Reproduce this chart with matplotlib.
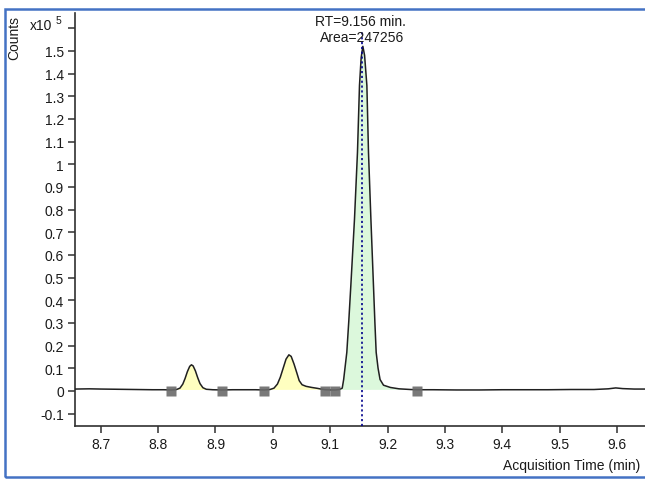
import matplotlib
matplotlib.use("Agg")
import matplotlib.pyplot as plt
from matplotlib.patches import Rectangle

plt.rcParams["font.family"] = ["Liberation Sans", "DejaVu Sans"]

# chromatogram trace, counts in units of 1e5
trace_time = [
	8.655, 8.68, 8.70, 8.73, 8.76, 8.79, 8.81, 8.823,
	8.832, 8.838, 8.843, 8.847, 8.851, 8.855, 8.858, 8.861, 8.865, 8.869,
	8.873, 8.878, 8.884, 8.895, 8.911, 8.93, 8.95, 8.97, 8.985,
	8.995, 9.002, 9.008, 9.013, 9.018, 9.023, 9.028, 9.032, 9.037, 9.042,
	9.046, 9.051, 9.058, 9.068, 9.078, 9.086, 9.091, 9.100, 9.109,
	9.116, 9.121, 9.1235, 9.129, 9.1325, 9.136, 9.1424, 9.1476, 9.1511,
	9.154, 9.157, 9.160, 9.164, 9.1668, 9.171, 9.1755, 9.178, 9.1802,
	9.1835, 9.187, 9.193, 9.205, 9.22, 9.24, 9.252, 9.28, 9.32, 9.36,
	9.40, 9.44, 9.48, 9.52, 9.56, 9.585, 9.598, 9.61, 9.63, 9.65,
]
trace_counts = [
	0.008, 0.009, 0.008, 0.007, 0.006, 0.005, 0.005, 0.004,
	0.006, 0.012, 0.030, 0.055, 0.085, 0.108, 0.115, 0.110, 0.088, 0.058,
	0.032, 0.014, 0.007, 0.005, 0.004, 0.005, 0.005, 0.005, 0.004,
	0.006, 0.012, 0.030, 0.060, 0.100, 0.140, 0.159, 0.152, 0.118, 0.078,
	0.045, 0.027, 0.020, 0.015, 0.011, 0.007, 0.005, 0.004, 0.004,
	0.006, 0.012, 0.050, 0.17, 0.31, 0.464, 0.758, 1.053, 1.347,
	1.47, 1.52, 1.48, 1.347, 1.053, 0.758, 0.464, 0.30, 0.17,
	0.10, 0.05, 0.025, 0.015, 0.009, 0.006, 0.005, 0.005, 0.004, 0.004,
	0.005, 0.005, 0.005, 0.006, 0.006, 0.009, 0.013, 0.010, 0.008, 0.008,
]

# integration limits of the three peaks
peak_start = [8.823, 8.985, 9.109]
peak_end = [8.911, 9.091, 9.252]
peak_colors = ["#ffffc0", "#ffffc0", "#dcf8dc"]

marker_time = [8.823, 8.911, 8.985, 9.091, 9.109, 9.252]
marker_counts = [0.0, 0.0, 0.0, 0.0, 0.0, 0.0]

rt_value = 9.156
rt_label = "RT=9.156 min."
area_label = "Area=247256"

xtick_values = [8.7, 8.8, 8.9, 9.0, 9.1, 9.2, 9.3, 9.4, 9.5, 9.6]
xtick_labels = ["8.7", "8.8", "8.9", "9", "9.1", "9.2", "9.3", "9.4", "9.5", "9.6"]
ytick_values = [-0.1, 0.0, 0.1, 0.2, 0.3, 0.4, 0.5, 0.6, 0.7, 0.8, 0.9, 1.0,
	1.1, 1.2, 1.3, 1.4, 1.5, 1.6]
ytick_labels = ["-0.1", "0", "0.1", "0.2", "0.3", "0.4", "0.5", "0.6", "0.7", "0.8",
	"0.9", "1", "1.1", "1.2", "1.3", "1.4", "1.5", ""]

W, H = 645, 481
fig = plt.figure(figsize=(W / 100, H / 100), dpi=100)
ax = fig.add_axes([75 / W, 1 - 427 / H, 1 - 75 / W, (427 - 14) / H])

# filled peak areas, closed by a straight baseline between the markers
for start, end, color in zip(peak_start, peak_end, peak_colors):
	xs = [t for t in trace_time if start <= t <= end]
	ys = [c for t, c in zip(trace_time, trace_counts) if start <= t <= end]
	ax.fill(xs, ys, color=color, lw=0, zorder=1)

ax.plot(trace_time, trace_counts, color="#202020", lw=1.1, zorder=3)
ax.plot(marker_time, marker_counts, ls="none", marker="s", ms=7,
	color="#6a6a6a", alpha=0.9, mec="none", zorder=4)

ax.plot([rt_value, rt_value], [-0.155, 1.585], color="#00008b", lw=1.2,
	dashes=(1.3, 1.6), zorder=5)

ax.set_xlim(8.655, 9.649)
ax.set_ylim(-0.155, 1.667)
ax.set_xticks(xtick_values)
ax.set_xticklabels(xtick_labels)
ax.set_yticks(ytick_values)
ax.set_yticklabels(ytick_labels)
ax.tick_params(axis="both", direction="out", length=5, width=1.1,
	color="#303030", labelsize=10, labelcolor="#1a1a1a", pad=3)
ax.spines["top"].set_visible(False)
ax.spines["right"].set_visible(False)
for side in ("left", "bottom"):
	ax.spines[side].set_color("#303030")
	ax.spines[side].set_linewidth(1.2)

fig.text(360 / W, 1 - 21.5 / H, rt_label, ha="center", va="center", fontsize=10, color="#1a1a1a")
fig.text(362 / W, 1 - 37.5 / H, area_label, ha="center", va="center", fontsize=10, color="#1a1a1a")
fig.text(640 / W, 1 - 466 / H, "Acquisition Time (min)", ha="right", va="center",
	fontsize=10, color="#1a1a1a")
fig.text(14 / W, 1 - 38 / H, "Counts", rotation=90, ha="center", va="center",
	fontsize=10, color="#1a1a1a")
fig.text(30 / W, 1 - 26 / H, "x10", ha="left", va="center", fontsize=10, color="#1a1a1a")
fig.text(56 / W, 1 - 21 / H, "5", ha="left", va="center", fontsize=7.5, color="#1a1a1a")

fig.patches.append(Rectangle((5 / W, 1 - 478 / H), 1.2, (478 - 10) / H,
	transform=fig.transFigure, fill=False, edgecolor="#4472c4", lw=1.8))

fig.savefig("out.png", dpi=100)
